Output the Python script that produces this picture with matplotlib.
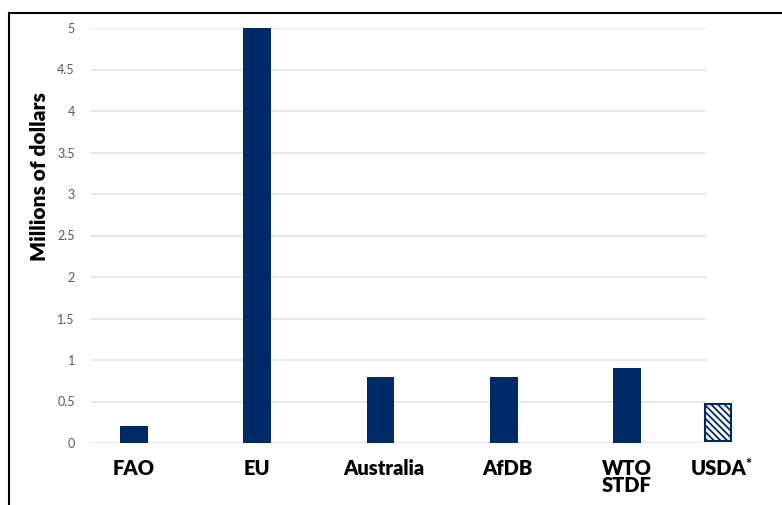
import numpy as np
import matplotlib.pyplot as plt
from matplotlib.lines import Line2D

plt.rcParams['font.family'] = ['Lato', 'DejaVu Sans']

# data
categories = ['FAO', 'EU', 'Australia', 'AfDB', 'WTO\nSTDF']
values = [0.2, 5.0, 0.8, 0.8, 0.9]
usda_label = 'USDA'
usda_value = 0.45
yticks = [0, 0.5, 1, 1.5, 2, 2.5, 3, 3.5, 4, 4.5, 5]
ytick_labels = ['0', '0.5', '1', '1.5', '2', '2.5', '3', '3.5', '4', '4.5', '5']

navy = '#002a66'
plt.rcParams['hatch.color'] = navy
plt.rcParams['hatch.linewidth'] = 1.3

fig = plt.figure(figsize=(7.82, 5.05), dpi=100)
ax = fig.add_axes([90/782, 1-443/505, 616/782, 415/505])

x = np.arange(len(categories))
ax.bar(x, values, width=0.225, color=navy, zorder=3)

# hatched USDA box, sits just outside the plot area
ax.bar([4.74], [usda_value], width=0.21, bottom=0.02, color='white',
       edgecolor=navy, hatch='\\\\\\\\\\', linewidth=1.5, clip_on=False, zorder=3)

ax.set_xlim(-0.357, 4.64)
ax.set_ylim(0, 5)
ax.set_yticks(yticks)
ax.set_yticklabels(ytick_labels, color='#595959', fontsize=9)
ax.tick_params(axis='y', length=0, pad=11)
ax.set_xticks([])
ax.grid(axis='y', color='#e3e3e3', linewidth=1.2, zorder=0)
for s in ax.spines.values():
    s.set_visible(False)

# category labels
xoff = [0, 0, 0.03, 0.03, 0]
for i, c in enumerate(categories):
    ax.text(x[i] + xoff[i], -0.19, c, ha='center', va='top', fontsize=14.5,
            fontweight='heavy', linespacing=0.9, clip_on=False)
ax.text(4.74, -0.19, usda_label, ha='center', va='top', fontsize=14.5,
        fontweight='heavy', clip_on=False)
ax.text(4.96, -0.18, '*', ha='left', va='top', fontsize=10,
        fontweight='heavy', clip_on=False)

fig.text(40/782, 1-177/505, 'Millions of dollars', rotation=90, ha='center',
         va='center', fontsize=15, fontweight='heavy')

# frame around the figure
fig.add_artist(Line2D([9/782, 1], [1-13/505, 1-13/505], color='black', lw=1.5))
fig.add_artist(Line2D([9/782, 9/782], [0, 1-13/505], color='black', lw=1.5))

fig.savefig('out.png', dpi=100)
